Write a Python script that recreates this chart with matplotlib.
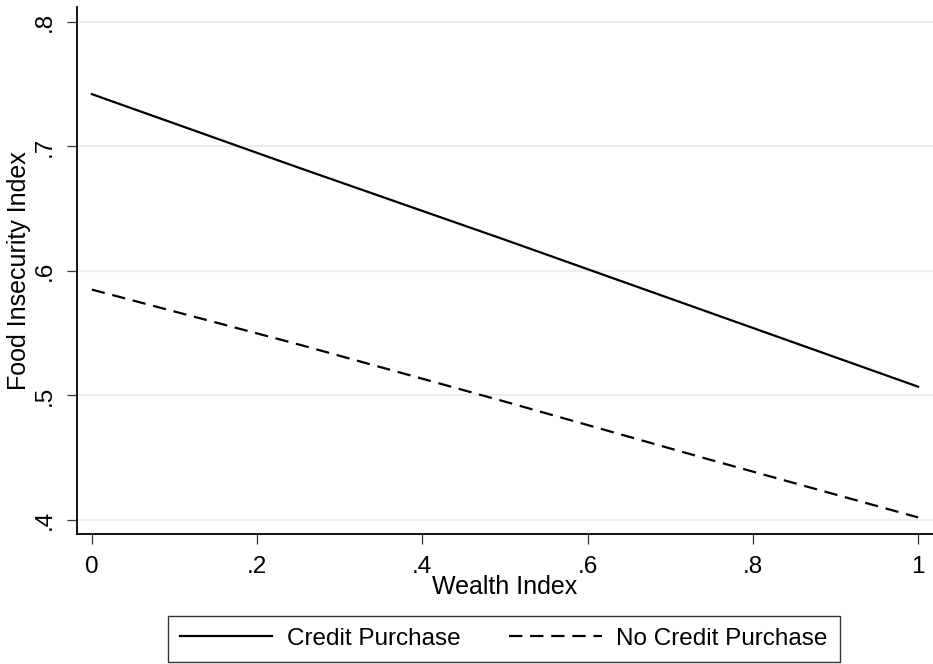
import numpy as np
import matplotlib as mpl
import matplotlib.pyplot as plt

mpl.rcParams['font.family'] = ['Liberation Sans', 'DejaVu Sans']

# Predicted food insecurity by wealth index
wealth = [0.0, 0.25, 0.5, 0.75, 1.0]
credit = [0.742, 0.683, 0.625, 0.566, 0.507]
no_credit = [0.585, 0.541, 0.495, 0.448, 0.402]

xticks = [0, 0.2, 0.4, 0.6, 0.8, 1]
xlabels = ['0', '.2', '.4', '.6', '.8', '1']
yticks = [0.4, 0.5, 0.6, 0.7, 0.8]
ylabels = ['.4', '.5', '.6', '.7', '.8']

fig = plt.figure(figsize=(9.33, 6.64), dpi=100)
ax = fig.add_axes([0.0825, 0.196, 0.9175, 0.7935])

for y in yticks:
    ax.axhline(y, color='#e6eff2', lw=1.6, zorder=0)

ax.plot(wealth, credit, color='black', lw=1.6, label='Credit Purchase')
ax.plot(wealth, no_credit, color='black', lw=1.6, linestyle=(0, (6, 3.5)),
        label='No Credit Purchase')

ax.set_xlim(-0.018, 1.018)
ax.set_ylim(0.3888, 0.812)
ax.set_xticks(xticks)
ax.set_xticklabels(xlabels, fontsize=17.5)
ax.set_yticks(yticks)
ax.set_yticklabels(ylabels, fontsize=17.5, rotation=90, va='center')
ax.tick_params(axis='both', direction='out', length=7, width=0.9, color='#333333')
ax.tick_params(axis='y', pad=8)
ax.tick_params(axis='x', pad=9)

for s in ['top', 'right']:
    ax.spines[s].set_visible(False)
for s in ['left', 'bottom']:
    ax.spines[s].set_linewidth(1.3)

ax.set_xlabel('Wealth Index', fontsize=18, labelpad=-2)
ax.set_ylabel('Food Insecurity Index', fontsize=18, labelpad=2)

leg = fig.legend(loc='center', bbox_to_anchor=(0.540, 0.0377), ncol=2, fontsize=17.5,
                 frameon=True, fancybox=False, edgecolor='black', handlelength=3.8,
                 handletextpad=0.6, columnspacing=2.0, borderpad=0.5,
                 borderaxespad=0)
leg.get_frame().set_linewidth(1.0)

fig.savefig('out.png', dpi=100)
